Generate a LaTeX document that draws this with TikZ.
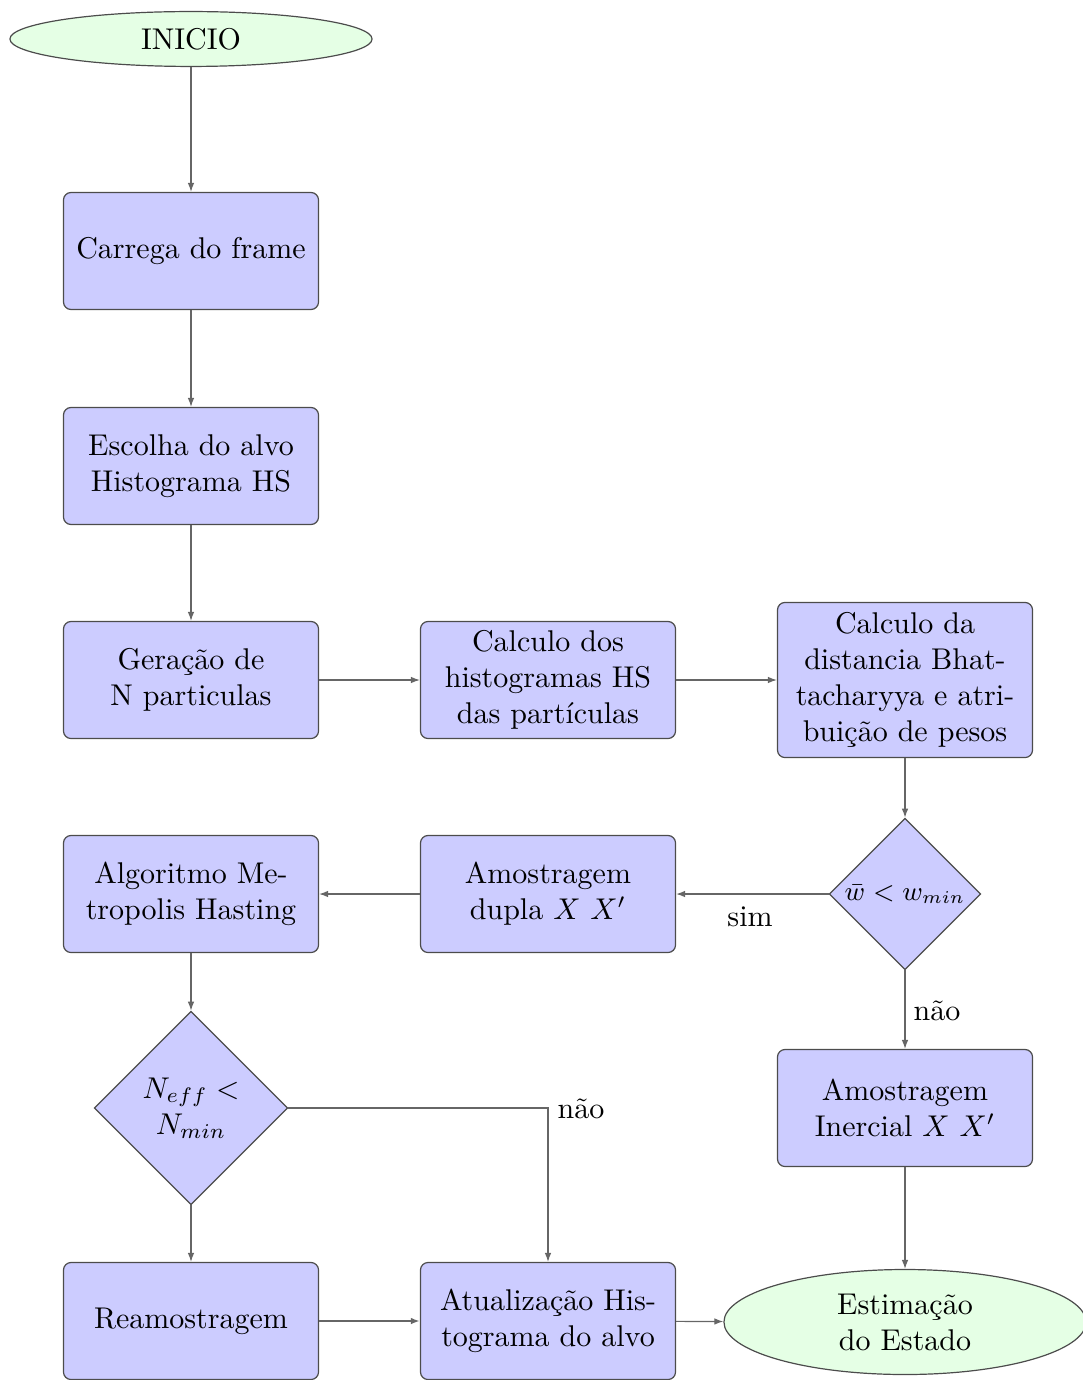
\documentclass[tikz,border=0pt]{standalone}
\usetikzlibrary{shapes.geometric,arrows.meta}
\begin{document}
\begin{tikzpicture}[x=0.3333pt,y=-0.3333pt,
  blk/.style={draw=black!70,fill=blue!20,rounded corners=2.5pt,minimum width=85pt,minimum height=39pt,align=center,inner sep=2pt},
  term/.style={draw=black!70,fill=green!10,ellipse,minimum width=120.7pt,align=center,inner sep=0pt},
  dec/.style={draw=black!70,fill=blue!20,diamond,aspect=1,inner sep=0pt,align=center},
  conn/.style={draw=black!60,-{Latex[length=3pt,width=2.2pt]}},
  lbl/.style={font=\normalsize,inner sep=1pt}]
\useasboundingbox (0,0) rectangle (1083,1380);
\node[term,minimum height=18.3pt] (ini) at (191,39) {INICIO};
\node[blk] (car) at (191,251) {Carrega do frame};
\node[blk] (esc) at (191,466) {Escolha do alvo\\Histograma HS};
\node[blk] (ger) at (191,680) {Geração de\\N particulas};
\node[blk] (cdo) at (548,680) {Calculo dos\\histogramas HS\\das partículas};
\node[blk,minimum height=51.7pt] (cda) at (905,680) {Calculo da\\distancia Bhat-\\tacharyya e atri-\\buição de pesos};
\node[dec,minimum width=50.5pt,minimum height=50.5pt,font=\fontsize{9}{11}\selectfont] (dw) at (905,894) {$\bar{w} < w_{min}$};
\node[blk] (adu) at (548,894) {Amostragem\\dupla $X$ $X'$};
\node[blk] (alg) at (191,894) {Algoritmo Me-\\tropolis Hasting};
\node[dec,minimum width=64.5pt,minimum height=64.5pt] (dn) at (191,1108) {$N_{eff} <$\\$N_{min}$};
\node[blk] (ain) at (905,1108) {Amostragem\\Inercial $X$ $X'$};
\node[blk] (rea) at (191,1321) {Reamostragem};
\node[blk] (atu) at (548,1321) {Atualização His-\\tograma do alvo};
\node[term,minimum height=35pt] (est) at (905,1322) {Estimação\\do Estado};
\draw[conn] (ini) -- (car);
\draw[conn] (car) -- (esc);
\draw[conn] (esc) -- (ger);
\draw[conn] (ger) -- (cdo);
\draw[conn] (cdo) -- (cda);
\draw[conn] (cda) -- (dw);
\draw[conn] (dw) -- (adu);
\node[lbl] (sim) at (750,917) {sim};
\draw[conn] (adu) -- (alg);
\draw[conn] (alg) -- (dn);
\draw[conn] (dw) -- (ain);
\node[lbl] (nao1) at (937,1011) {não};
\draw[conn] (ain) -- (est);
\draw[conn] (dn) -- (rea);
\draw[conn] (dn.east) -| (atu.north);
\node[lbl] (nao2) at (581,1109) {não};
\draw[conn,line width=0.8pt] (rea) -- (atu);
\draw[conn] (atu) -- (est);
\end{tikzpicture}
\end{document}
